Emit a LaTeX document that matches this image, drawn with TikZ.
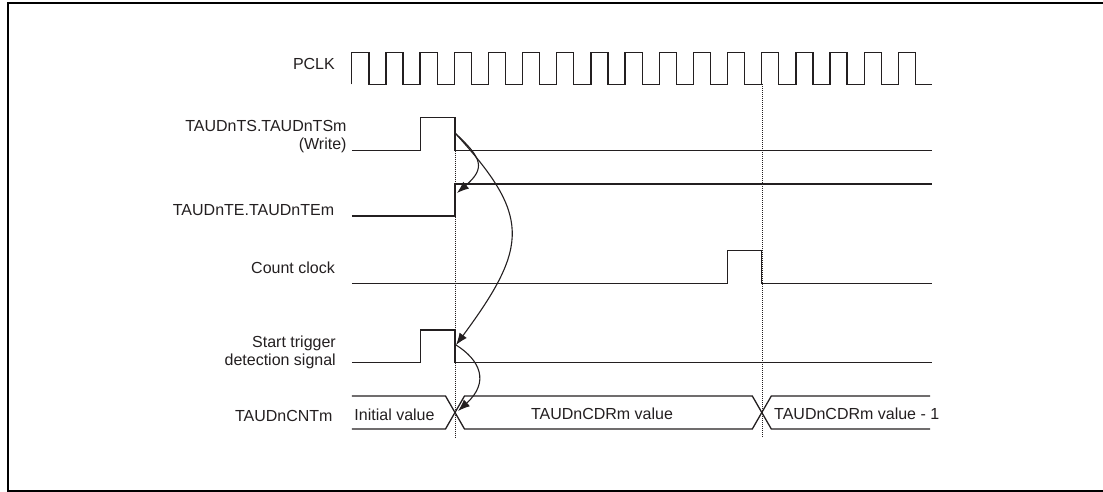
\documentclass[tikz,border=0pt]{standalone}
\usepackage{fontspec}
\setmainfont{Liberation Sans}
\usetikzlibrary{arrows.meta}
\definecolor{ink}{RGB}{35,31,32}
\begin{document}
\begin{tikzpicture}[x=1pt,y=-1pt,
  sig/.style={draw=ink,line width=1.3pt,line join=miter},
  guide/.style={draw=ink,line width=0.6pt,dash pattern=on 1pt off 1pt},
  lbl/.style={text=ink,font=\fontsize{16}{18}\selectfont,inner sep=0pt},
  causal/.style={draw=ink,line width=1.1pt,-{Latex[length=12pt,width=9pt]}},
  frame/.style={draw=black,line width=2pt}
]
\useasboundingbox (0,0) rectangle (1103,492);
\draw[frame] (7.7,3.2) rectangle (1104.5,491.3);

% labels
\node[lbl,anchor=base east] (lpclk) at (335,70) {PCLK};
\node[lbl,anchor=base east,align=right] (lts) at (346.7,149.3) {TAUDnTS.TAUDnTSm\\(Write)};
\node[lbl,anchor=base east] (lte) at (334.3,215.7) {TAUDnTE.TAUDnTEm};
\node[lbl,anchor=base east] (lcc) at (335,273.3) {Count clock};
\node[lbl,anchor=base east,align=right] (lst) at (336,365.7) {Start trigger\\detection signal};
\node[lbl,anchor=base east] (lcnt) at (332.7,421.7) {TAUDnCNTm};

% guides
\draw[guide] (455,150.7) -- (455,438);
\draw[guide] (761.8,84.3) -- (761.8,438);

% PCLK
\draw[sig] (351.8,84.3) \foreach \k in {0,...,15}{ -- ++(0,-32) -- ++(17.08,0) -- ++(0,32) -- ++(17.08,0)} -- ++(0,-32) -- ++(17.08,0) -- ++(0,32) -- (931.7,84.3);

% TS
\draw[sig] (351.8,150.7) -- (420.7,150.7) -- (420.7,117.7) -- (455,117.7) -- (455,150.7) -- (931.7,150.7);
% TE
\draw[sig] (351.8,216) -- (455,216) -- (455,184) -- (931.7,184);
% Count clock
\draw[sig] (351.8,283.3) -- (727.5,283.3) -- (727.5,250.7) -- (761.8,250.7) -- (761.8,283.3) -- (931.7,283.3);
% Start trigger
\draw[sig] (351.8,362.7) -- (420.7,362.7) -- (420.7,330) -- (455,330) -- (455,362.7) -- (931.7,362.7);
% CNT bus
\draw[sig] (351.8,396) -- (445.5,396) -- (464.5,429) -- (752.3,429) -- (771.3,396) -- (930,396);
\draw[sig] (351.8,429) -- (445.5,429) -- (464.5,396) -- (752.3,396) -- (771.3,429) -- (930,429);
\node[lbl,anchor=base] (vinit) at (394.5,420) {Initial value};
\node[lbl,anchor=base] (vcdr) at (602,419.5) {TAUDnCDRm value};
\node[lbl,anchor=base west] (vcdr1) at (774,419.5) {TAUDnCDRm value - 1};

% causal arrows
\coordinate (tsf) at (455,133);
\coordinate (tee) at (457,193);
\coordinate (stf) at (456,345);
\coordinate (cnx) at (458,411);
\draw[causal] (tsf) .. controls (482,158) and (486,168) .. (tee);
\draw[causal] (tsf) .. controls (530,215) and (530,245) .. (stf);
\draw[causal] (stf) .. controls (480,360) and (490,382) .. (cnx);
\end{tikzpicture}
\end{document}
